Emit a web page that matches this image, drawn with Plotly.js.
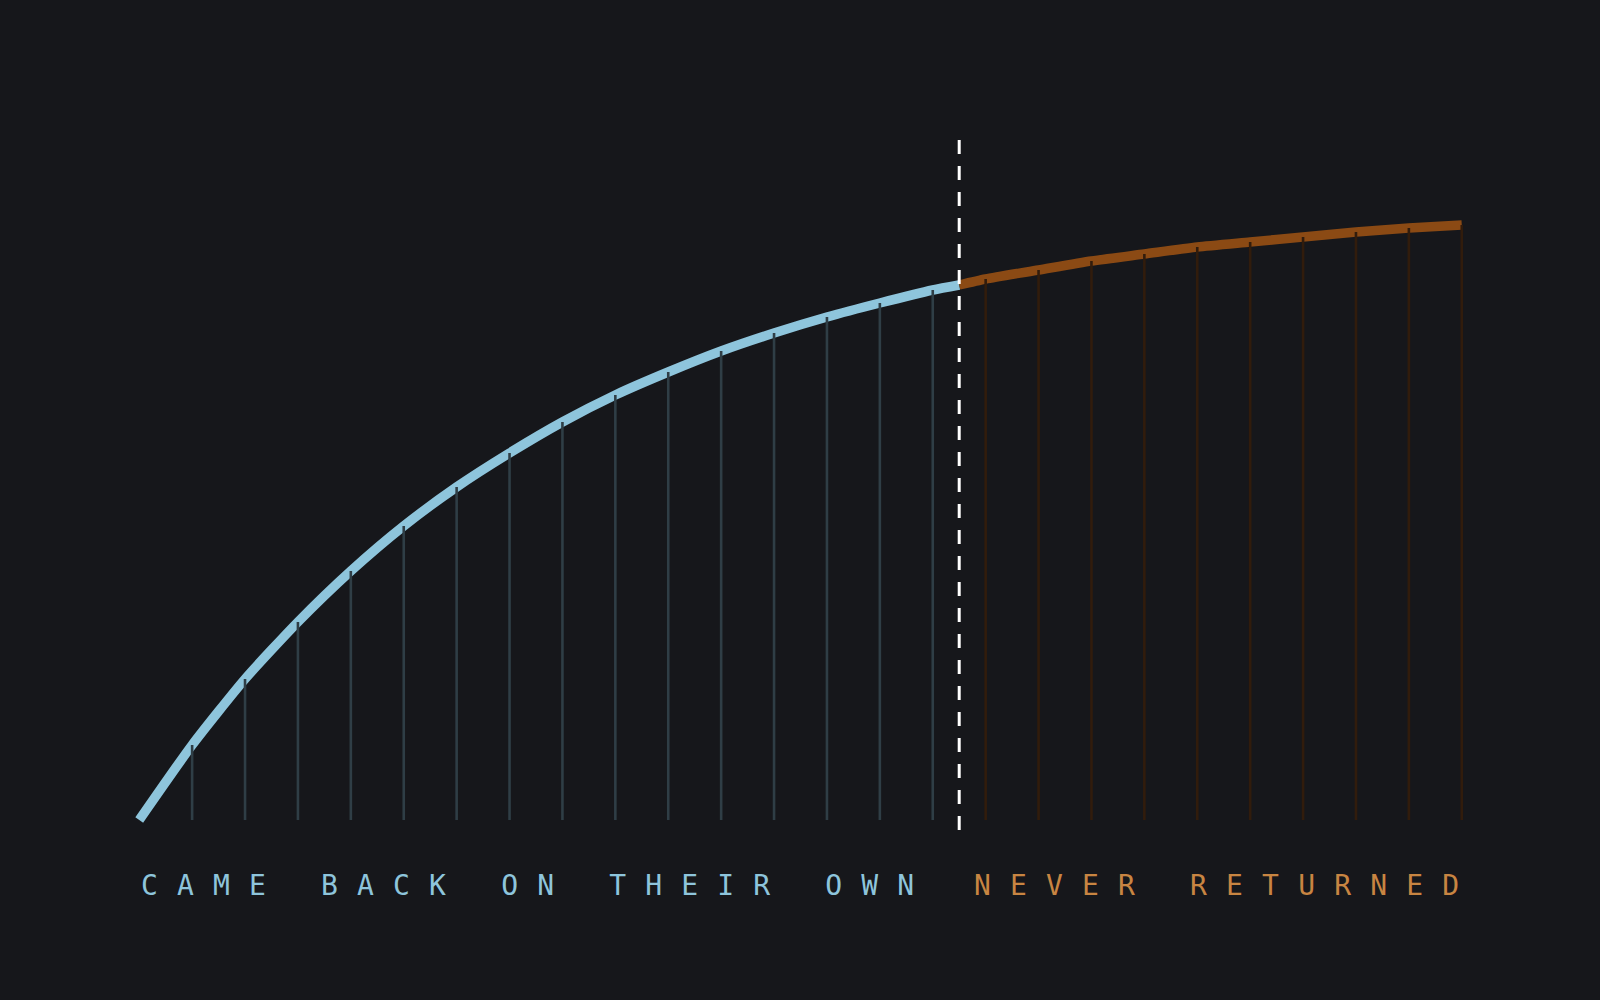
<!DOCTYPE html>
<html>
<head>
<meta charset="utf-8">
<script src="https://cdn.plot.ly/plotly-3.0.1.min.js"></script>
<style>
    html, body { margin: 0; padding: 0; background: #16171b; }
    #chart { width: 1600px; height: 1000px; }
    .annotation-text { letter-spacing: 1.15px; }
</style>
</head>
<body>
<div id="chart"></div>
<script>
    'use strict';

    // days since leaving, cumulative share of those who came back
    const days = [0, 1, 2, 3, 4, 5, 6, 7, 8, 9, 10, 11, 12, 13, 14, 15,
        16, 17, 18, 19, 20, 21, 22, 23, 24, 25];
    const cumulative = [0, 75, 141, 198, 249, 294, 333, 367, 398, 425, 448, 469, 487, 503, 517, 530,
        541, 550, 559, 566, 573, 578, 583, 588, 592, 595];

    // where the returning stops
    const cutoffDay = 15.5;
    const cutoffValue = 535;

    const leftLabel = 'C A M E   B A C K   O N   T H E I R   O W N';
    const rightLabel = 'N E V E R   R E T U R N E D';

    const BLUE = '#8ec5dc';
    const BLUE_STEM = '#2f3e46';
    const BROWN = '#8b4a14';
    const BROWN_STEM = '#311c0c';
    const ORANGE_TEXT = '#c88542';

    function stems(filterFn) {
        let x = [], y = [];
        days.forEach((d, i) => {
            if (d > 0 && filterFn(d)) {
                x.push(d, d, null);
                y.push(0, cumulative[i], null);
            }
        });
        return {x: x, y: y};
    }

    function curve(filterFn, cutFirst) {
        let x = [], y = [];
        if (cutFirst) {
            x.push(cutoffDay);
            y.push(cutoffValue);
        }
        days.forEach((d, i) => {
            if (filterFn(d)) {
                x.push(d);
                y.push(cumulative[i]);
            }
        });
        if (!cutFirst) {
            x.push(cutoffDay);
            y.push(cutoffValue);
        }
        return {x: x, y: y};
    }

    const before = d => d < cutoffDay;
    const after = d => d > cutoffDay;

    const blueCurve = curve(before, false);
    const brownCurve = curve(after, true);
    const blueStems = stems(before);
    const brownStems = stems(after);

    const data = [
        {
            type: 'scatter', mode: 'lines',
            x: blueCurve.x, y: blueCurve.y,
            line: {color: BLUE, width: 9.5, shape: 'spline', smoothing: 0.6},
            hoverinfo: 'skip'
        },
        {
            type: 'scatter', mode: 'lines',
            x: brownCurve.x, y: brownCurve.y,
            line: {color: BROWN, width: 9.5, shape: 'spline', smoothing: 0.6},
            hoverinfo: 'skip'
        },
        {
            type: 'scatter', mode: 'lines',
            x: blueStems.x, y: blueStems.y,
            line: {color: BLUE_STEM, width: 2.6},
            hoverinfo: 'skip'
        },
        {
            type: 'scatter', mode: 'lines',
            x: brownStems.x, y: brownStems.y,
            line: {color: BROWN_STEM, width: 2.6},
            hoverinfo: 'skip'
        }
    ];

    const hiddenAxis = {
        showgrid: false, zeroline: false, showline: false,
        showticklabels: false, ticks: '', fixedrange: true
    };

    const layout = {
        width: 1600,
        height: 1000,
        paper_bgcolor: '#16171b',
        plot_bgcolor: '#16171b',
        showlegend: false,
        hovermode: false,
        margin: {l: 126, r: 125, t: 130, b: 170},
        xaxis: Object.assign({range: [-0.25, 25.25]}, hiddenAxis),
        yaxis: Object.assign({range: [-10, 690]}, hiddenAxis),
        shapes: [{
            type: 'line', xref: 'x', yref: 'y',
            x0: cutoffDay, x1: cutoffDay, y0: 680, y1: -10,
            line: {color: '#ffffff', width: 3, dash: '14px,12px'},
            layer: 'above'
        }],
        annotations: [
            {
                x: days[0], y: -0.079, xref: 'x', yref: 'paper',
                xanchor: 'left', yanchor: 'middle',
                text: leftLabel, showarrow: false,
                font: {family: 'DejaVu Sans Mono, monospace', size: 28, color: BLUE}
            },
            {
                x: days[days.length - 1], y: -0.079, xref: 'x', yref: 'paper',
                xanchor: 'right', yanchor: 'middle',
                text: rightLabel, showarrow: false,
                font: {family: 'DejaVu Sans Mono, monospace', size: 28, color: ORANGE_TEXT}
            }
        ]
    };

    Plotly.newPlot('chart', data, layout, {staticPlot: true, displayModeBar: false});
</script>
</body>
</html>
